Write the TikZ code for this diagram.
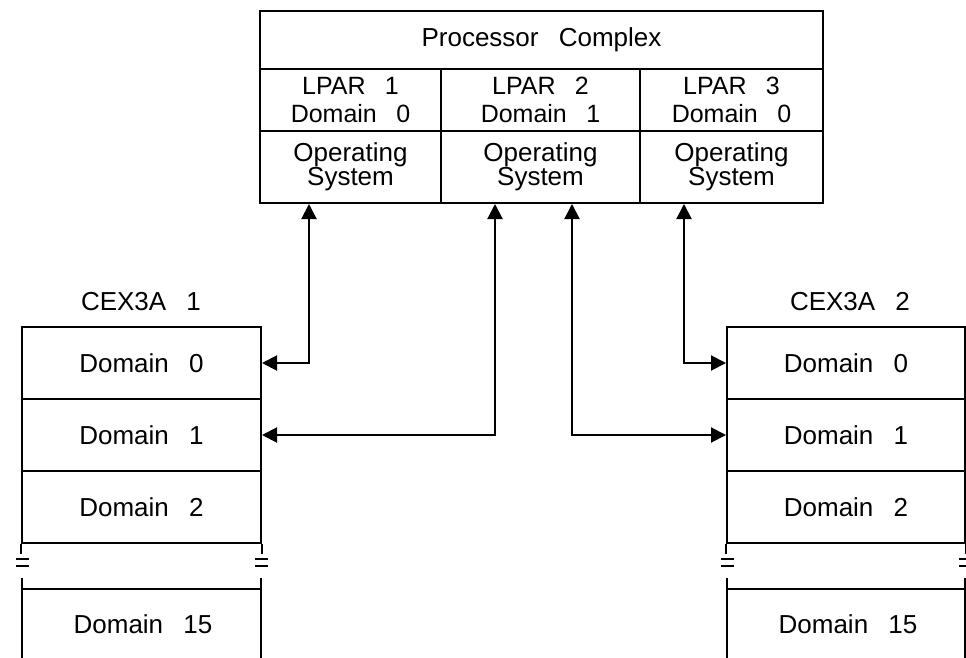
\documentclass[tikz,border=0pt]{standalone}
\usepackage{fontspec}
\setmainfont[WordSpace=2.8]{Liberation Sans}
\usetikzlibrary{arrows.meta}
\begin{document}
\begin{tikzpicture}[x=1pt,y=-1pt,line width=2pt,
  every node/.style={font=\fontsize{26}{28}\selectfont, inner sep=0pt},
  cell/.style={draw, line width=2pt, inner sep=0pt, align=center},
  lpartext/.style={font=\fontsize{25}{28}\selectfont},
  ostext/.style={font=\fontsize{26}{24}\selectfont},
  brk/.style={line width=1.5pt},
  biarrow/.style={{Triangle[length=15pt,width=15pt]}-{Triangle[length=15pt,width=15pt]}}]
\useasboundingbox (0,0) rectangle (966,658);
\clip (0,0) rectangle (966,658);
% processor complex
\node[cell, minimum width=563pt, minimum height=58pt] (pc) at (541.5,40) {Processor Complex};
\node[cell, lpartext, minimum width=181pt, minimum height=62pt] (l1) at (350.5,100) {LPAR 1\\Domain 0};
\node[cell, lpartext, minimum width=199pt, minimum height=62pt] (l2) at (540.5,100) {LPAR 2\\Domain 1};
\node[cell, lpartext, minimum width=183pt, minimum height=62pt] (l3) at (731.5,100) {LPAR 3\\Domain 0};
\node[cell, ostext, minimum width=181pt, minimum height=72pt] (o1) at (350.5,167) {Operating\\System};
\node[cell, ostext, minimum width=199pt, minimum height=72pt] (o2) at (540.5,167) {Operating\\System};
\node[cell, ostext, minimum width=183pt, minimum height=72pt] (o3) at (731.5,167) {Operating\\System};
% left stack
\node (ca) at (141,302) {CEX3A 1};
\node[cell, minimum width=239pt, minimum height=72pt] (a0) at (141.5,363) {Domain 0};
\node[cell, minimum width=239pt, minimum height=72pt] (a1) at (141.5,435) {Domain 1};
\node[cell, minimum width=239pt, minimum height=72pt] (a2) at (141.5,507) {Domain 2};
\node (a15) at (143,624) {Domain 15};
\draw (a2.south west) -- ++(0,10);
\draw (a2.south east) -- ++(0,10);
\draw (22,680) -- (22,578) (261,680) -- (261,578) (22,589) -- (261,589);
\draw[brk] (16,559) -- (29,559) (16,566) -- (29,566);
\draw[brk] (255,559) -- (268,559) (255,566) -- (268,566);
% right stack
\node (cb) at (850,302) {CEX3A 2};
\node[cell, minimum width=238pt, minimum height=72pt] (b0) at (846,363) {Domain 0};
\node[cell, minimum width=238pt, minimum height=72pt] (b1) at (846,435) {Domain 1};
\node[cell, minimum width=238pt, minimum height=72pt] (b2) at (846,507) {Domain 2};
\node (b15) at (848,624) {Domain 15};
\draw (b2.south west) -- ++(0,10);
\draw (b2.south east) -- ++(0,10);
\draw (727,680) -- (727,578) (965,680) -- (965,578) (727,589) -- (965,589);
\draw[brk] (721,559) -- (734,559) (721,566) -- (734,566);
\draw[brk] (959,559) -- (972,559) (959,566) -- (972,566);
% connectors
\draw[biarrow] ([xshift=-41.5pt]o1.south) |- (a0.east);
\draw[biarrow] ([xshift=-45.5pt]o2.south) |- (a1.east);
\draw[biarrow] ([xshift=31.5pt]o2.south) |- (b1.west);
\draw[biarrow] ([xshift=-47.5pt]o3.south) |- (b0.west);
\end{tikzpicture}
\end{document}
